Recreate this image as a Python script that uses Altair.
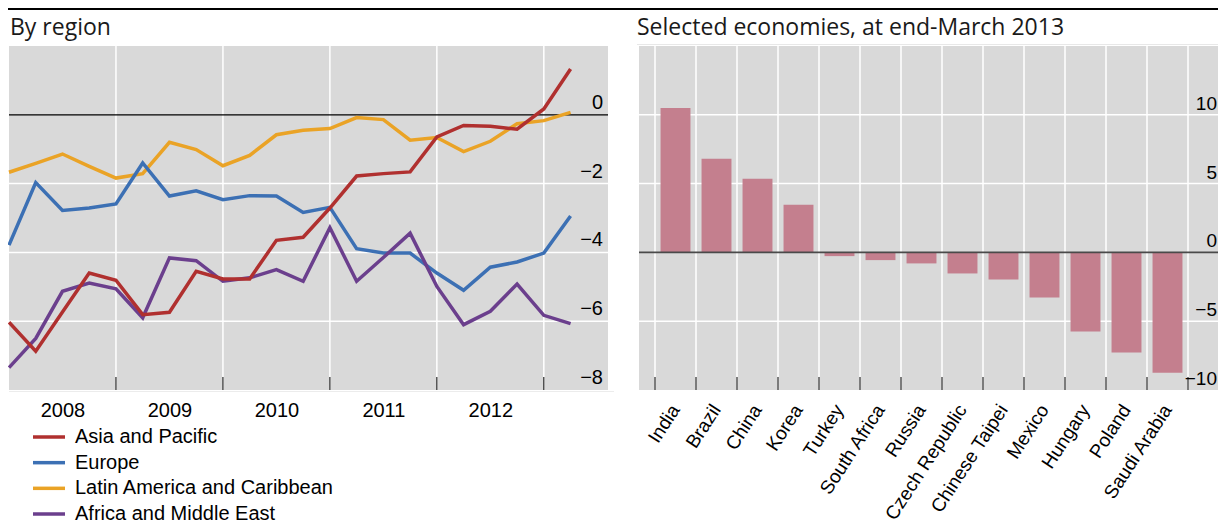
import altair as alt
import pandas as pd

# ---------------- data ----------------
quarters = [2008.0, 2008.25, 2008.5, 2008.75,
            2009.0, 2009.25, 2009.5, 2009.75,
            2010.0, 2010.25, 2010.5, 2010.75,
            2011.0, 2011.25, 2011.5, 2011.75,
            2012.0, 2012.25, 2012.5, 2012.75,
            2013.0, 2013.25]
asia_pacific = [-6.03, -6.87, -5.73, -4.60, -4.81, -5.81, -5.74, -4.55, -4.77, -4.77, -3.65,
                -3.56, -2.71, -1.78, -1.71, -1.66, -0.64, -0.31, -0.33, -0.42, 0.17, 1.33]
europe = [-3.79, -1.97, -2.78, -2.71, -2.59, -1.40, -2.36, -2.21, -2.47, -2.35, -2.36,
          -2.84, -2.69, -3.89, -4.02, -4.02, -4.60, -5.10, -4.43, -4.28, -4.02, -2.94]
latin_america = [-1.67, -1.41, -1.14, -1.50, -1.84, -1.71, -0.80, -1.01, -1.48, -1.18, -0.58,
                 -0.45, -0.40, -0.08, -0.14, -0.74, -0.66, -1.07, -0.77, -0.26, -0.17, 0.07]
africa_me = [-7.35, -6.50, -5.13, -4.89, -5.06, -5.90, -4.16, -4.24, -4.84, -4.74, -4.50,
             -4.84, -3.28, -4.84, -4.15, -3.44, -4.99, -6.10, -5.71, -4.92, -5.83, -6.07]

series_names = ["Asia and Pacific", "Europe", "Latin America and Caribbean", "Africa and Middle East"]
series_colors = ["#b0302f", "#3c70b4", "#eaa326", "#6b3f8d"]
series_values = [asia_pacific, europe, latin_america, africa_me]
draw_order = ["Latin America and Caribbean", "Europe", "Africa and Middle East", "Asia and Pacific"]

year_labels = [2008, 2009, 2010, 2011, 2012]
year_bounds = [2009, 2010, 2011, 2012, 2013]
left_ticks = [0, -2, -4, -6, -8]
left_tick_labels = ["0", "\u22122", "\u22124", "\u22126", "\u22128"]

countries = ["India", "Brazil", "China", "Korea", "Turkey", "South Africa", "Russia",
             "Czech Republic", "Chinese Taipei", "Mexico", "Hungary", "Poland", "Saudi Arabia"]
country_values = [10.5, 6.8, 5.35, 3.47, -0.27, -0.56, -0.80, -1.53, -1.97, -3.28, -5.75, -7.28, -8.74]
right_ticks = [10, 5, 0, -5, -10]
right_tick_labels = ["10", "5", "0", "\u22125", "\u221210"]

left_title = "By region"
right_title = "Selected economies, at end-March 2013"

# ---------------- layout ----------------
W, H = 1210, 344
PAD_TOP, PAD_BOTTOM = 38, 135
LFONT = "Liberation Sans"
TFONT = "Open Sans"
BG = "#d9d9d9"
FS = 20

L_X0, L_X1 = 1, 600
R_X0 = 631
R_B0, R_B1 = 647, 1180

xL = alt.Scale(domain=[2008, 2013.6], range=[L_X0, L_X1], nice=False, zero=False)
yL = alt.Scale(domain=[-8, 2], nice=False, zero=False)
xR = alt.Scale(domain=countries, range=[R_B0, R_B1], paddingInner=0.27, paddingOuter=0.135)
xG = alt.Scale(domain=[0, len(countries)], range=[R_B0, R_B1], nice=False, zero=False)
yR = alt.Scale(domain=[-10, 15], nice=False, zero=False)

one = pd.DataFrame({"k": [0]})

long_df = pd.DataFrame({
    "t": quarters * len(series_names),
    "value": [v for vals in series_values for v in vals],
    "series": [n for n in series_names for _ in quarters],
})
color_of = dict(zip(series_names, series_colors))


def box(x0, x1, y0, y1, color):
    return alt.Chart(one).mark_rect(color=color).encode(
        x=alt.value(x0), x2=alt.value(x1), y=alt.value(y0), y2=alt.value(y1))


layers = []

# top rule and titles
layers.append(alt.Chart(one).mark_rule(color="black", strokeWidth=2).encode(
    x=alt.value(0), x2=alt.value(W), y=alt.value(-PAD_TOP + 1)))
for txt, xpos in [(left_title, 2), (right_title, 629)]:
    layers.append(alt.Chart(pd.DataFrame({"t": [txt]})).mark_text(
        align="left", baseline="alphabetic", fontSize=23, font=TFONT, color="#1a1a1a").encode(
        x=alt.value(xpos), y=alt.value(-11.5), text="t:N"))

# ---------- left panel ----------
layers.append(box(L_X0, L_X1, 0, H, BG))
layers.append(alt.Chart(one).mark_rule(color="#ececec", strokeWidth=1).encode(
    x=alt.value(L_X0), x2=alt.value(L_X1 + 6), y=alt.value(H + 1.5)))
layers.append(alt.Chart(pd.DataFrame({"b": year_bounds})).mark_rule(
    color="white", strokeWidth=1.5).encode(x=alt.X("b:Q", scale=xL, axis=None)))
layers.append(alt.Chart(pd.DataFrame({"v": [v for v in left_ticks if v != 0 and v > -8]})).mark_rule(
    color="white", strokeWidth=1.5).encode(
    y=alt.Y("v:Q", scale=yL, axis=None), x=alt.value(L_X0), x2=alt.value(L_X1)))
layers.append(alt.Chart(pd.DataFrame({"v": [0]})).mark_rule(color="black", strokeWidth=1.2).encode(
    y=alt.Y("v:Q", scale=yL, axis=None), x=alt.value(L_X0), x2=alt.value(L_X1)))
layers.append(alt.Chart(pd.DataFrame({"b": year_bounds})).mark_rule(
    color="black", strokeWidth=1).encode(
    x=alt.X("b:Q", scale=xL, axis=None), y=alt.value(H - 13), y2=alt.value(H)))

for i, name in enumerate(draw_order):
    if i == 0:
        xaxis = alt.Axis(values=[y + 0.5 for y in year_labels],
                         labelExpr="format(floor(datum.value), 'd')",
                         orient="bottom", ticks=False, tickSize=0, domain=False, grid=False,
                         labelFont=LFONT, labelFontSize=FS, labelColor="black",
                         labelPadding=10, labelFlush=False, labelOverlap=False, title=None)
    else:
        xaxis = None
    layers.append(alt.Chart(long_df).transform_filter(alt.datum.series == name).mark_line(
        strokeWidth=3.5, color=color_of[name]).encode(
        x=alt.X("t:Q", scale=xL, axis=xaxis),
        y=alt.Y("value:Q", scale=yL, axis=None)))

layers.append(alt.Chart(pd.DataFrame({"v": left_ticks, "lab": left_tick_labels})).mark_text(
    align="right", baseline="alphabetic", dy=-6, fontSize=FS, font=LFONT, color="black").encode(
    x=alt.value(L_X1 - 5), y=alt.Y("v:Q", scale=yL, axis=None), text="lab:N"))

# legend
leg_df = pd.DataFrame({"series": series_names, "row": list(range(len(series_names)))})
leg_y = alt.Y("row:Q", scale=alt.Scale(domain=[0, len(series_names) - 1], range=[391, 468],
                                       nice=False, zero=False), axis=None)
leg_c = alt.Color("series:N", scale=alt.Scale(domain=series_names, range=series_colors), legend=None)
layers.append(alt.Chart(leg_df).mark_rule(strokeWidth=3.5).encode(
    x=alt.value(25), x2=alt.value(57), y=leg_y, color=leg_c))
layers.append(alt.Chart(leg_df).mark_text(
    align="left", baseline="middle", fontSize=FS, font=LFONT, color="black").encode(
    x=alt.value(67), y=leg_y, text="series:N"))

# ---------- right panel ----------
layers.append(box(R_X0, W, 0, H, BG))
layers.append(alt.Chart(one).mark_rule(color="#e8e8e8", strokeWidth=1).encode(
    x=alt.value(R_X0 - 2), x2=alt.value(W), y=alt.value(-1.5)))
edge_df = pd.DataFrame({"e": list(range(len(countries) + 1))})
layers.append(alt.Chart(edge_df).mark_rule(color="white", strokeWidth=1.5).encode(
    x=alt.X("e:Q", scale=xG, axis=None)))
layers.append(alt.Chart(pd.DataFrame({"v": [v for v in right_ticks if v != 0 and v > -10]})).mark_rule(
    color="white", strokeWidth=1.5).encode(
    y=alt.Y("v:Q", scale=yR, axis=None), x=alt.value(R_X0), x2=alt.value(W)))
layers.append(alt.Chart(pd.DataFrame({"country": countries, "value": country_values})).mark_bar(
    color="#c47f8e").encode(
    x=alt.X("country:N", scale=xR, sort=None,
            axis=alt.Axis(orient="bottom", labelAngle=303, labelAlign="right", labelBaseline="middle",
                          labelFont=LFONT, labelFontSize=19, labelColor="black", labelPadding=16,
                          ticks=False, tickSize=0, domain=False, grid=False, labelOverlap=False,
                          labelLimit=400, title=None)),
    y=alt.Y("value:Q", scale=yR, axis=None)))
layers.append(alt.Chart(pd.DataFrame({"v": [0]})).mark_rule(color="#4a4a4a", strokeWidth=1.6).encode(
    y=alt.Y("v:Q", scale=yR, axis=None), x=alt.value(R_X0), x2=alt.value(W)))
layers.append(alt.Chart(edge_df).mark_rule(color="black", strokeWidth=1).encode(
    x=alt.X("e:Q", scale=xG, axis=None), y=alt.value(H - 13), y2=alt.value(H)))
layers.append(alt.Chart(pd.DataFrame({"v": right_ticks, "lab": right_tick_labels})).mark_text(
    align="right", baseline="alphabetic", dy=-5, fontSize=19, font=LFONT, color="black").encode(
    x=alt.value(W - 1), y=alt.Y("v:Q", scale=yR, axis=None), text="lab:N"))

chart = alt.layer(*layers).resolve_scale(
    x="independent", y="independent", color="independent"
).properties(
    width=W, height=H,
    autosize=alt.AutoSizeParams(type="none"),
    padding={"left": 0, "top": PAD_TOP, "right": 0, "bottom": PAD_BOTTOM},
).configure_view(strokeWidth=0)

chart.save("out.html", embed_options={"renderer": "svg", "actions": False})
